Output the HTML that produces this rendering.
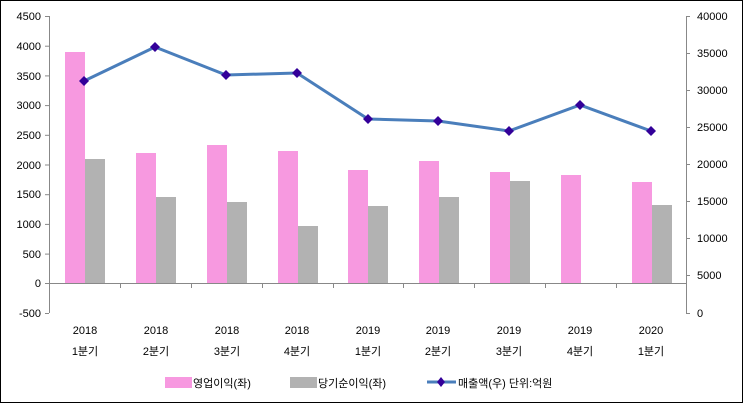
<!DOCTYPE html>
<html><head><meta charset="utf-8"><style>
html,body{margin:0;padding:0;background:#fff}
svg text{font-family:"Liberation Sans","Noto Sans CJK KR","NanumGothic",sans-serif;font-size:11px;fill:#000}
</style></head><body>
<svg width="743" height="403" xmlns="http://www.w3.org/2000/svg">
<rect x="0.5" y="0.5" width="742" height="402" fill="#fff" stroke="#000"/>
<g stroke="#888" stroke-width="1">
<line x1="49.5" y1="16" x2="49.5" y2="313"/>
<line x1="686.5" y1="16" x2="686.5" y2="313"/>
<line x1="49" y1="283.5" x2="686" y2="283.5"/>
</g>
<g stroke="#888">
<line x1="45" y1="16.5" x2="49" y2="16.5"/><line x1="45" y1="46.2" x2="49" y2="46.2"/><line x1="45" y1="75.9" x2="49" y2="75.9"/><line x1="45" y1="105.6" x2="49" y2="105.6"/><line x1="45" y1="135.3" x2="49" y2="135.3"/><line x1="45" y1="165" x2="49" y2="165"/><line x1="45" y1="194.7" x2="49" y2="194.7"/><line x1="45" y1="224.4" x2="49" y2="224.4"/><line x1="45" y1="254.1" x2="49" y2="254.1"/><line x1="45" y1="283.5" x2="49" y2="283.5"/><line x1="45" y1="313.5" x2="49" y2="313.5"/>
<line x1="686" y1="16.5" x2="690" y2="16.5"/><line x1="686" y1="53.5" x2="690" y2="53.5"/><line x1="686" y1="90.5" x2="690" y2="90.5"/><line x1="686" y1="127.5" x2="690" y2="127.5"/><line x1="686" y1="164.5" x2="690" y2="164.5"/><line x1="686" y1="201.5" x2="690" y2="201.5"/><line x1="686" y1="238.5" x2="690" y2="238.5"/><line x1="686" y1="275.5" x2="690" y2="275.5"/><line x1="686" y1="313.5" x2="690" y2="313.5"/>
<line x1="120.5" y1="283" x2="120.5" y2="288"/><line x1="191.5" y1="283" x2="191.5" y2="288"/><line x1="262.5" y1="283" x2="262.5" y2="288"/><line x1="333.5" y1="283" x2="333.5" y2="288"/><line x1="403.5" y1="283" x2="403.5" y2="288"/><line x1="474.5" y1="283" x2="474.5" y2="288"/><line x1="545.5" y1="283" x2="545.5" y2="288"/><line x1="616.5" y1="283" x2="616.5" y2="288"/>
</g>
<g text-anchor="end">
<text x="41" y="20">4500</text><text x="41" y="50">4000</text><text x="41" y="80">3500</text><text x="41" y="109">3000</text><text x="41" y="139">2500</text><text x="41" y="169">2000</text><text x="41" y="198">1500</text><text x="41" y="228">1000</text><text x="41" y="258">500</text><text x="41" y="287">0</text><text x="41" y="317">-500</text>
</g>
<g text-anchor="start">
<text x="697" y="20">40000</text><text x="697" y="57">35000</text><text x="697" y="94">30000</text><text x="697" y="131">25000</text><text x="697" y="168">20000</text><text x="697" y="205">15000</text><text x="697" y="242">10000</text><text x="697" y="279">5000</text><text x="697" y="317">0</text>
</g>
<g fill="#F799E0">
<rect x="65" y="52" width="20" height="231"/><rect x="136" y="153" width="20" height="130"/><rect x="207" y="145" width="20" height="138"/><rect x="278" y="151" width="20" height="132"/><rect x="348" y="170" width="20" height="113"/><rect x="419" y="161" width="20" height="122"/><rect x="490" y="172" width="20" height="111"/><rect x="561" y="175" width="20" height="108"/><rect x="632" y="182" width="20" height="101"/>
</g>
<g fill="#B2B2B2">
<rect x="85" y="159" width="20" height="124"/><rect x="156" y="197" width="20" height="86"/><rect x="227" y="202" width="20" height="81"/><rect x="298" y="226" width="20" height="57"/><rect x="368" y="206" width="20" height="77"/><rect x="439" y="197" width="20" height="86"/><rect x="510" y="181" width="20" height="102"/><rect x="652" y="205" width="20" height="78"/>
</g>
<polyline points="84,81 155,47 226,75 297,73 368,119 438,121 509,131 580,105 651,131" fill="none" stroke="#4A7EBB" stroke-width="3"/>
<g fill="#330099">
<path d="M84,76 l5,5 l-5,5 l-5,-5z"/><path d="M155,42 l5,5 l-5,5 l-5,-5z"/><path d="M226,70 l5,5 l-5,5 l-5,-5z"/><path d="M297,68 l5,5 l-5,5 l-5,-5z"/><path d="M368,114 l5,5 l-5,5 l-5,-5z"/><path d="M438,116 l5,5 l-5,5 l-5,-5z"/><path d="M509,126 l5,5 l-5,5 l-5,-5z"/><path d="M580,100 l5,5 l-5,5 l-5,-5z"/><path d="M651,126 l5,5 l-5,5 l-5,-5z"/>
</g>
<g text-anchor="middle">
<text x="85" y="334">2018</text><text x="156" y="334">2018</text><text x="227" y="334">2018</text><text x="297" y="334">2018</text><text x="368" y="334">2019</text><text x="438" y="334">2019</text><text x="509" y="334">2019</text><text x="580" y="334">2019</text><text x="651" y="334">2020</text>
<text x="85" y="355" font-size="12">1분기</text><text x="156" y="355" font-size="12">2분기</text><text x="227" y="355" font-size="12">3분기</text><text x="297" y="355" font-size="12">4분기</text><text x="368" y="355" font-size="12">1분기</text><text x="438" y="355" font-size="12">2분기</text><text x="509" y="355" font-size="12">3분기</text><text x="580" y="355" font-size="12">4분기</text><text x="651" y="355" font-size="12">1분기</text>
</g>
<rect x="165" y="377" width="27" height="11" fill="#F799E0"/>
<text x="193" y="387" font-size="12">영업이익(좌)</text>
<rect x="290" y="377" width="27" height="11" fill="#B2B2B2"/>
<text x="318" y="387" font-size="12">당기순이익(좌)</text>
<line x1="427" y1="382" x2="456" y2="382" stroke="#4A7EBB" stroke-width="3"/>
<path d="M441,377 l4,5 l-4,5 l-4,-5z" fill="#330099"/>
<text x="458" y="387" font-size="12">매출액(우)  단위:억원</text>
</svg>
</body></html>
